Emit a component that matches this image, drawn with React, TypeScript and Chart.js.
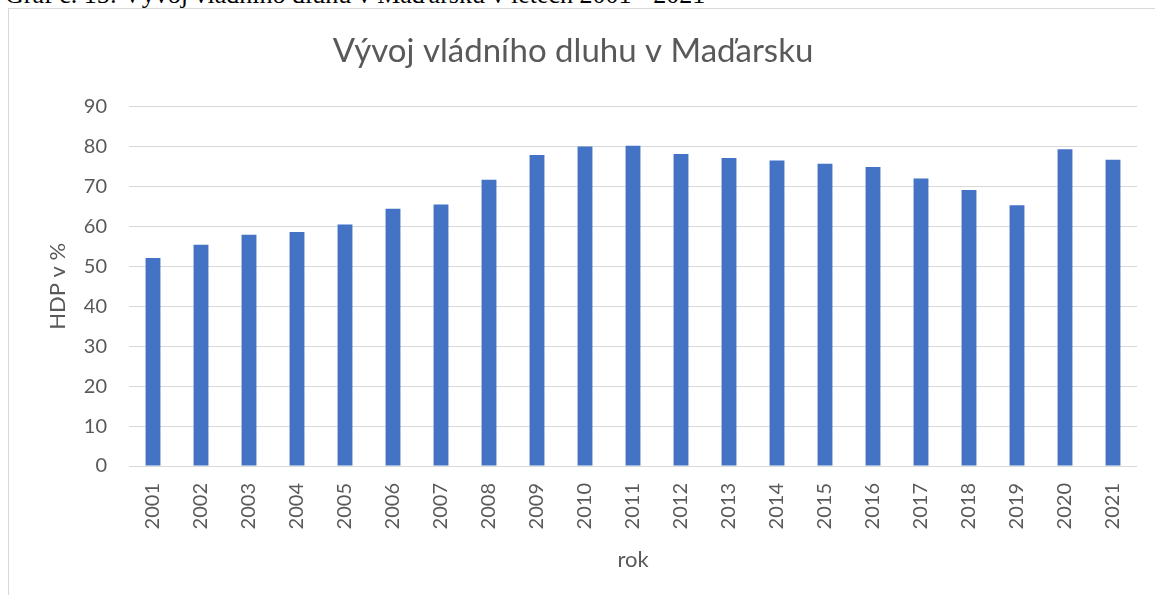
import React, { useEffect, useRef } from "react";
import { Chart, registerables } from "chart.js";

Chart.register(...registerables);

const years = ["2001","2002","2003","2004","2005","2006","2007","2008","2009","2010","2011","2012","2013","2014","2015","2016","2017","2018","2019","2020","2021"];
const debtPct = [52.1, 55.4, 57.9, 58.6, 60.5, 64.4, 65.5, 71.7, 77.9, 80.0, 80.2, 78.1, 77.1, 76.5, 75.7, 74.9, 72.0, 69.1, 65.3, 79.3, 76.7];
const chartTitle = "Vývoj vládního dluhu v Maďarsku";
const yTitle = "HDP v %";
const xTitle = "rok";
const caption = "Graf č. 15: Vývoj vládního dluhu v Maďarsku v letech 2001 - 2021";

const FONT = "Lato";
const GRAY = "#595959";

export default function App() {
  const ref = useRef<HTMLCanvasElement | null>(null);
  useEffect(() => {
    if (!ref.current) return;
    const chart = new Chart(ref.current, {
      type: "bar",
      data: {
        labels: years,
        datasets: [
          {
            label: yTitle,
            data: debtPct,
            backgroundColor: "#4472c4",
            barPercentage: 0.31,
            categoryPercentage: 1,
          },
        ],
      },
      options: {
        responsive: false,
        animation: false,
        layout: { padding: { left: 0, right: 18, top: 0, bottom: 0 } },
        plugins: {
          legend: { display: false },
          tooltip: { enabled: false },
          title: {
            display: true,
            text: chartTitle,
            color: GRAY,
            font: { family: FONT, size: 33, weight: "normal" },
            padding: { top: 23, bottom: 35 },
          },
        },
        scales: {
          x: {
            grid: { display: false, drawTicks: false },
            border: { display: false },
            ticks: {
              color: GRAY,
              font: { family: FONT, size: 20 },
              minRotation: 90,
              maxRotation: 90,
              padding: 17,
              autoSkip: false,
            },
            title: {
              display: true,
              text: xTitle,
              color: GRAY,
              font: { family: FONT, size: 22 },
              padding: { top: 0, bottom: 22 },
            },
            afterFit: (s: any) => {
              s.height = 129;
            },
          },
          y: {
            min: 0,
            max: 90,
            grid: { color: "#d9d9d9", lineWidth: 1, drawTicks: false },
            border: { display: false },
            ticks: {
              stepSize: 10,
              color: GRAY,
              font: { family: FONT, size: 20 },
              padding: 22,
            },
            title: {
              display: true,
              text: yTitle,
              color: GRAY,
              font: { family: FONT, size: 22 },
              padding: { top: 36, bottom: 0 },
            },
            afterFit: (s: any) => {
              s.width = 120;
            },
          },
        },
      },
    });
    return () => chart.destroy();
  }, []);

  return (
    <div style={{ position: "fixed", left: 0, top: 0, width: 1155, height: 595, overflow: "hidden", background: "#fff" }}>
      <div
        style={{
          position: "absolute",
          left: 5,
          top: -20,
          fontFamily: '"Liberation Serif", serif',
          fontSize: 26,
          lineHeight: "30px",
          whiteSpace: "nowrap",
          color: "#000",
        }}
      >
        {caption}
      </div>
      <div
        style={{
          position: "absolute",
          left: 8,
          top: 8,
          width: 1170,
          height: 620,
          border: "1px solid #d9d9d9",
          boxSizing: "border-box",
          background: "#fff",
        }}
      >
        <canvas ref={ref} width={1146} height={586} style={{ position: "absolute", left: 0, top: 0 }} />
      </div>
    </div>
  );
}
